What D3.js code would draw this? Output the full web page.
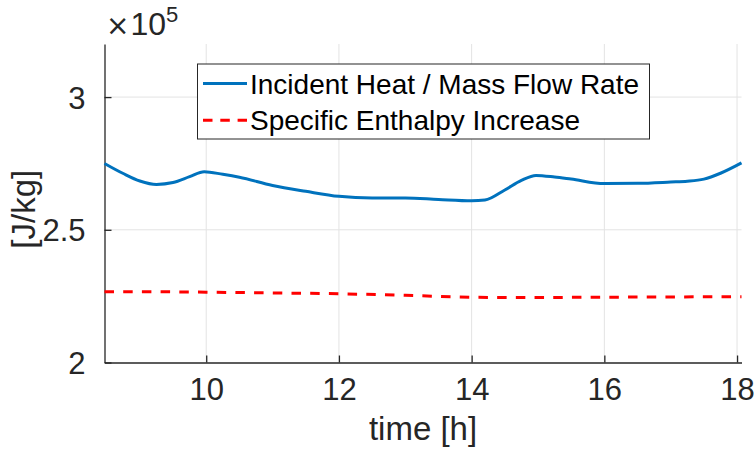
<!DOCTYPE html>
<html>
<head>
<meta charset="utf-8">
<script src="https://cdn.jsdelivr.net/npm/d3@7"></script>
<style>
  body { margin: 0; background: #fff; }
  text { font-family: "Liberation Sans", Arial, Helvetica, sans-serif; }
</style>
</head>
<body>
<div class="chart"></div>
<script>
// time of day [h]
var heatTime = [8.467, 8.75, 9.0, 9.25, 9.5, 9.75, 9.97, 10.25, 10.5, 11.0, 11.5, 12.0, 12.5, 13.0, 13.5,
  14.0, 14.2, 14.5, 14.75, 14.97, 15.25, 15.5, 16.0, 16.5, 17.0, 17.25, 17.5, 17.75, 18.067];
// incident heat / mass flow rate [J/kg]
var heatValue = [275000, 271200, 268400, 267100, 267800, 270000, 271900, 270900, 269800, 266700, 264500,
  262600, 262000, 262000, 261400, 260900, 261200, 265000, 268600, 270500, 269900, 269100, 267400,
  267500, 268000, 268300, 269100, 271300, 275200];

var enthTime = [8.467, 9.0, 10.0, 11.0, 12.0, 13.0, 14.0, 14.5, 15.0, 16.0, 17.0, 18.067];
// specific enthalpy increase [J/kg]
var enthValue = [226700, 226700, 226500, 226200, 225900, 225300, 224600, 224500, 224500, 224600, 224700, 224800];

var xTicks = [10, 12, 14, 16, 18];
var yTicks = [200000, 250000, 300000];
var legendLabels = ["Incident Heat / Mass Flow Rate", "Specific Enthalpy Increase"];

var width = 754, height = 453;
var margin = { left: 104.5, right: 12.5, top: 44, bottom: 90.5 };

var svg = d3.select(".chart").append("svg")
  .attr("width", width)
  .attr("height", height);

var x = d3.scaleLinear().domain([8.467, 18.067]).range([margin.left, width - margin.right]);
var y = d3.scaleLinear().domain([200000, 320000]).range([height - margin.bottom, margin.top]);

var axisColor = "#262626";

// grid
svg.append("g").selectAll("line")
  .data(xTicks)
  .enter().append("line")
  .attr("x1", function (d) { return x(d); })
  .attr("x2", function (d) { return x(d); })
  .attr("y1", y.range()[0])
  .attr("y2", y.range()[1])
  .attr("stroke", "#e3e3e3")
  .attr("stroke-width", 1);

svg.append("g").selectAll("line")
  .data(yTicks.slice(1))
  .enter().append("line")
  .attr("x1", x.range()[0])
  .attr("x2", x.range()[1])
  .attr("y1", function (d) { return y(d); })
  .attr("y2", function (d) { return y(d); })
  .attr("stroke", "#e3e3e3")
  .attr("stroke-width", 1);

// axes, ticks pointing inward
var xAxis = svg.append("g")
  .attr("transform", "translate(0," + y.range()[0] + ")")
  .call(d3.axisBottom(x).tickValues(xTicks).tickSizeInner(-7).tickSizeOuter(0).tickPadding(15));

var yAxis = svg.append("g")
  .attr("transform", "translate(" + x.range()[0] + ",0)")
  .call(d3.axisLeft(y).tickValues(yTicks).tickSizeInner(-7).tickSizeOuter(0).tickPadding(19)
    .tickFormat(function (d) { return d3.format("")(d / 1e5); }));

[xAxis, yAxis].forEach(function (a) {
  a.select(".domain").attr("stroke", axisColor).attr("stroke-width", 1.3);
  a.selectAll(".tick line").attr("stroke", axisColor).attr("stroke-width", 1.3);
  a.selectAll(".tick text")
    .attr("fill", axisColor)
    .style("font-size", "31px")
    .style("font-family", "'Liberation Sans', Arial, sans-serif");
});
yAxis.selectAll(".tick text").attr("dy", "0.36em");

// exponent label
var expo = svg.append("text")
  .attr("x", 106)
  .attr("y", 35)
  .attr("fill", axisColor)
  .style("font-size", "32px");
expo.append("tspan").style("font-family", "'DejaVu Sans', sans-serif").style("font-size", "28px").text("\u00d7");
expo.append("tspan").attr("dx", 1).text("10");
expo.append("tspan").attr("dy", -13).style("font-size", "22px").text("5");

// axis labels
svg.append("text")
  .attr("x", (x.range()[0] + x.range()[1]) / 2)
  .attr("y", 440)
  .attr("text-anchor", "middle")
  .attr("fill", axisColor)
  .style("font-size", "33px")
  .text("time [h]");

svg.append("text")
  .attr("transform", "translate(35," + ((y.range()[0] + y.range()[1]) / 2 + 6) + ") rotate(-90)")
  .attr("text-anchor", "middle")
  .attr("fill", axisColor)
  .style("font-size", "33px")
  .text("[J/kg]");

// lines
var heatLine = d3.line()
  .x(function (d, i) { return x(heatTime[i]); })
  .y(function (d) { return y(d); })
  .curve(d3.curveMonotoneX);

var enthLine = d3.line()
  .x(function (d, i) { return x(enthTime[i]); })
  .y(function (d) { return y(d); })
  .curve(d3.curveMonotoneX);

svg.append("path")
  .attr("d", enthLine(enthValue))
  .attr("fill", "none")
  .attr("stroke", "#ff0000")
  .attr("stroke-width", 3)
  .attr("stroke-dasharray", "9.5,9.2");

svg.append("path")
  .attr("d", heatLine(heatValue))
  .attr("fill", "none")
  .attr("stroke", "#0072bd")
  .attr("stroke-width", 3);

// legend
var legend = svg.append("g");
legend.append("rect")
  .attr("x", 197.5)
  .attr("y", 64)
  .attr("width", 452)
  .attr("height", 75)
  .attr("fill", "#fff")
  .attr("stroke", axisColor)
  .attr("stroke-width", 1);

var rows = legend.selectAll(".row")
  .data(legendLabels)
  .enter().append("g")
  .attr("class", "row")
  .attr("transform", function (d, i) { return "translate(0," + (83.5 + i * 36.7) + ")"; });

rows.append("line")
  .attr("x1", 203)
  .attr("x2", 247)
  .attr("stroke", function (d, i) { return i == 0 ? "#0072bd" : "#ff0000"; })
  .attr("stroke-width", 3)
  .attr("stroke-dasharray", function (d, i) { return i == 0 ? null : "9.5,7.8"; });

rows.append("text")
  .attr("x", 250)
  .attr("dy", "0.36em")
  .attr("fill", "#000")
  .style("font-size", "28px")
  .text(function (d) { return d; });
</script>
</body>
</html>
